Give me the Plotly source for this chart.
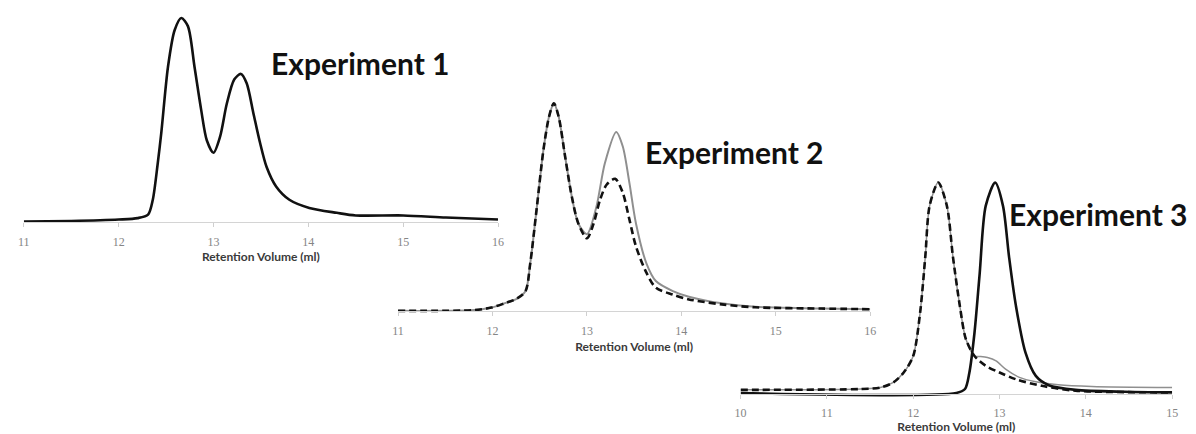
import plotly.graph_objects as go

# ---- Experiment 1: single run (absorbance, % of main peak) ----
exp1_x = [11.0, 11.5, 12.0, 12.2, 12.31, 12.36, 12.41, 12.45, 12.52, 12.59, 12.66, 12.73,
          12.80, 12.87, 12.93, 13.0, 13.07, 13.14, 13.22, 13.29, 13.35, 13.42, 13.49,
          13.56, 13.66, 13.80, 14.01, 14.3, 14.5, 15.0, 15.45, 16.0]
exp1_y = [0.3, 0.6, 1.3, 2.0, 3.7, 11, 28, 44, 76, 94, 100, 96,
          76, 55, 40, 34, 42, 58, 70, 72.6, 68, 53.5, 39,
          27, 17.5, 11, 7, 4.6, 3.3, 3.3, 2.3, 1.3]

# ---- Experiment 2: two runs sharing the first peak ----
exp2_x = [11.0, 11.81, 11.99, 12.12, 12.26, 12.35, 12.40, 12.47, 12.54, 12.60, 12.65,
          12.70, 12.77, 12.84, 12.91, 13.0]
exp2_y = [0.2, 0.6, 1.8, 3.7, 6.1, 9.7, 23, 50, 77.5, 93.5, 99.8,
          93.5, 74, 55, 42]
exp2_solid_x = exp2_x + [13.10, 13.19, 13.31, 13.38, 13.45, 13.52, 13.63, 13.73, 13.91,
                         14.08, 14.43, 14.78, 15.48, 16.0]
exp2_solid_y = exp2_y + [37, 50, 71, 86, 79, 61.6, 42, 23, 14.5, 9.7,
                         7, 3.8, 2.2, 1.3, 1.0]
exp2_dash_x = exp2_x + [13.07, 13.14, 13.21, 13.30, 13.38, 13.45, 13.52, 13.63, 13.73,
                        13.91, 14.08, 14.43, 14.78, 15.48, 16.0]
exp2_dash_y = exp2_y + [35, 42, 53.6, 60.8, 63.5, 56.8, 44, 31, 18.5, 11.3,
                        8, 5.7, 3.3, 1.9, 1.3, 1.0]

# ---- Experiment 3: three runs ----
exp3_x = [10.0, 11.39, 11.62, 11.77, 11.89, 12.0, 12.08, 12.14, 12.19, 12.29, 12.39,
          12.46, 12.54, 12.61, 12.71]
exp3_y = [2.0, 2.4, 3.1, 5.5, 10.2, 18, 38.5, 65, 89, 100, 89,
          65, 41.7, 26, 18]
exp3_gray_x = exp3_x + [12.77, 12.86, 12.96, 13.07, 13.23, 13.42, 13.68, 14.07, 15.0]
exp3_gray_y = exp3_y + [17.8, 17.3, 15.7, 11.8, 7.9, 5.8, 4.4, 3.6, 3.1]
exp3_dash_x = exp3_x + [12.84, 13.0, 13.19, 13.49, 13.88, 15.0]
exp3_dash_y = exp3_y + [13.4, 10.2, 7, 3.9, 1.6, 0.8]
exp3_solid_x = [10.0, 12.5, 12.60, 12.65, 12.71, 12.77, 12.84, 12.95, 13.04, 13.11,
                13.19, 13.30, 13.42, 13.57, 13.88, 14.45, 15.0]
exp3_solid_y = [0.5, 0.5, 2.4, 10, 29, 57, 89, 100, 89, 65,
                41.7, 19.7, 8.6, 4.2, 2.0, 1.1, 0.8]

x_ticks_12 = [11, 12, 13, 14, 15, 16]
x_ticks_3 = [10, 11, 12, 13, 14, 15]
axis_title = "Retention Volume (ml)"
labels = ["Experiment 1", "Experiment 2", "Experiment 3"]

W, H = 1196, 434
Y_LO, Y_HI = -3, 105

# panel geometry in pixels: x-axis left/right, baseline row, px per % unit
panels = [
    dict(left=18, right=497, base=222.7, scale=2.047, xr=[11, 16], ticks=x_ticks_12),
    dict(left=396, right=873, base=312.0, scale=2.09, xr=[11, 16], ticks=x_ticks_12),
    dict(left=742, right=1178, base=395.0, scale=2.12, xr=[10, 15], ticks=x_ticks_3),
]

fig = go.Figure()

BLACK = "#111111"
GRAY = "#8f8f8f"
DASH = "7px,4px"

def add(x, y, i, color, width, dash="solid"):
    suffix = "" if i == 0 else str(i + 1)
    fig.add_trace(go.Scatter(
        x=x, y=y, mode="lines", xaxis="x" + suffix, yaxis="y" + suffix,
        line=dict(color=color, width=width, dash=dash, shape="spline", smoothing=0.8),
        showlegend=False, hoverinfo="skip"))

add(exp1_x, exp1_y, 0, BLACK, 2.6)
add(exp2_solid_x, exp2_solid_y, 1, GRAY, 2.0)
add(exp2_dash_x, exp2_dash_y, 1, BLACK, 2.6, DASH)
add(exp3_gray_x, exp3_gray_y, 2, GRAY, 1.5)
add(exp3_dash_x, exp3_dash_y, 2, BLACK, 2.6, DASH)
add(exp3_solid_x, exp3_solid_y, 2, BLACK, 2.6)

layout = dict(
    width=W, height=H,
    margin=dict(l=0, r=0, t=0, b=0),
    paper_bgcolor="white", plot_bgcolor="rgba(0,0,0,0)",
    showlegend=False,
)

for i, p in enumerate(panels):
    suffix = "" if i == 0 else str(i + 1)
    bottom_px = p["base"] - Y_LO * p["scale"]
    top_px = p["base"] - Y_HI * p["scale"]
    layout["xaxis" + suffix] = dict(
        domain=[p["left"] / W, p["right"] / W],
        range=p["xr"], tickvals=p["ticks"],
        anchor="free", position=1 - p["base"] / H,
        showline=True, linecolor="#d4d4d4", linewidth=1,
        ticks="outside", ticklen=4, tickcolor="#cfcfcf",
        showgrid=False, zeroline=False,
        tickfont=dict(family="Liberation Serif", size=12, color="#858585"),
        ticklabelstandoff=4,
        title=dict(text=axis_title, standoff=5,
                   font=dict(family="Lato", size=12, color="#3a3a3a", weight="bold")),
    )
    layout["yaxis" + suffix] = dict(
        domain=[1 - bottom_px / H, 1 - top_px / H],
        range=[Y_LO, Y_HI], visible=False, anchor="x" + suffix,
    )

fig.update_layout(**layout)

# experiment captions, placed in each panel's data coordinates
captions = [(14.55, 78, 0), (14.56, 76.5, 1), (14.15, 85, 2)]
for (cx, cy, i), text in zip(captions, labels):
    suffix = "" if i == 0 else str(i + 1)
    fig.add_annotation(x=cx, y=cy, xref="x" + suffix, yref="y" + suffix, text=text,
                       showarrow=False,
                       font=dict(family="Lato", size=30, color="#111111", weight="bold"))

fig.write_html("out.html")
